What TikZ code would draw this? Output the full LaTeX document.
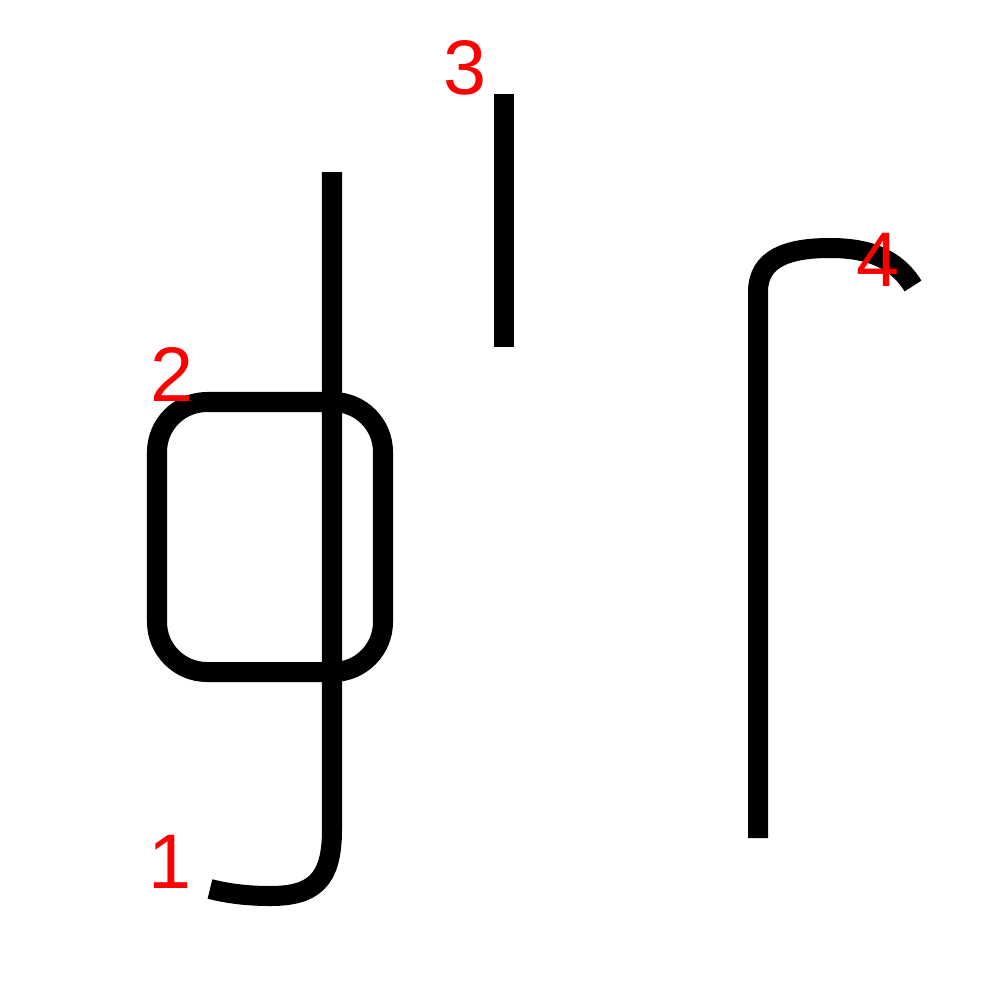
\documentclass[tikz,border=0pt]{standalone}
\usepackage{fontspec}
\setmainfont{Liberation Sans}
\begin{document}
\begin{tikzpicture}[x=0.01cm,y=-0.01cm,
  stroke/.style={line width=0.2cm},
  num/.style={text=red,inner sep=0pt,font=\fontsize{22}{22}\selectfont}]
\useasboundingbox (0,0) rectangle (1000,1000);
\draw [stroke] (332,172) -- (332,830) .. controls (332,882) and (312,896) .. (270,896) .. controls (245,896) and (226,893) .. (210,889);
\draw [stroke, rounded corners=0.5cm] (157,402) rectangle (383,672);
\draw [stroke] (504,94) -- (504,347);
\draw [stroke] (758,838) -- (758,292) .. controls (758,258) and (788,248) .. (830,248) .. controls (866,248) and (895,257) .. (913,286);
\node [num] (n1) at (170,862) {1};
\node [num] (n2) at (172,374) {2};
\node [num] (n3) at (465,68) {3};
\node [num] (n4) at (878,260) {4};
\end{tikzpicture}
\end{document}
